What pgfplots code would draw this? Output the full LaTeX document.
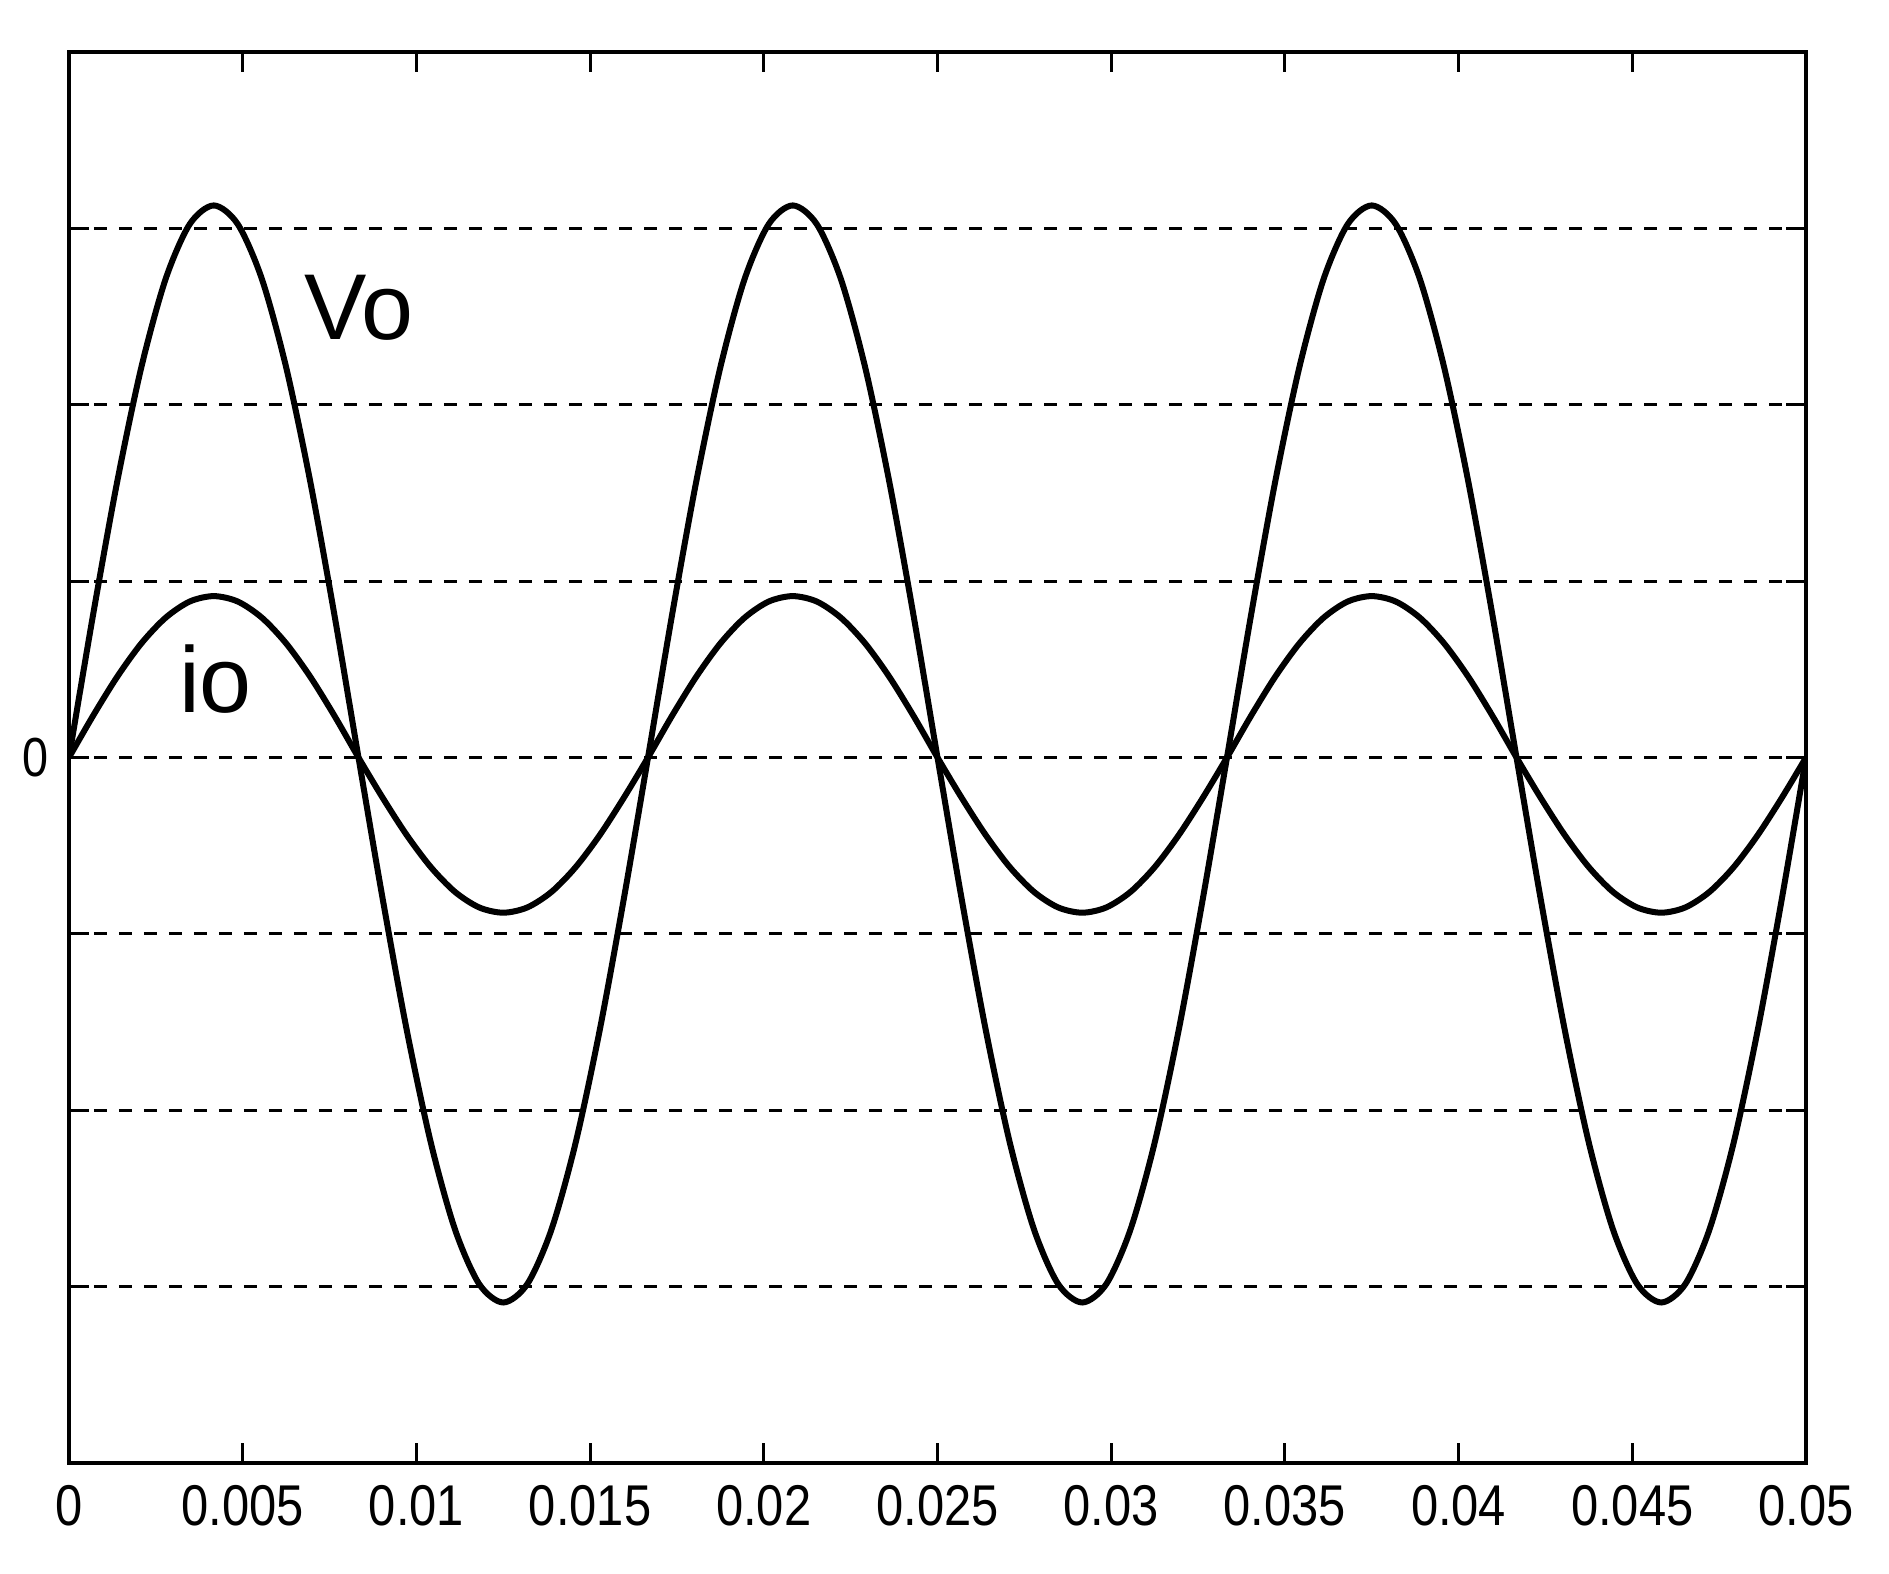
\documentclass[border=0pt]{standalone}
\usepackage{fontspec}
\setmainfont{Liberation Sans}
\usepackage{graphicx}
\usepackage{pgfplots}
\pgfplotsset{compat=1.18}
\usepackage{pgfplotstable}
\newcommand{\nl}[1]{\scalebox{0.85}[1]{#1}}
\pgfplotstableread{
t vo io
0 0 0
0.000694 0.810 0.237
0.001389 1.565 0.458
0.002083 2.213 0.647
0.002778 2.711 0.792
0.003472 3.023 0.884
0.004167 3.130 0.915
0.004861 3.023 0.884
0.005556 2.711 0.792
0.00625 2.213 0.647
0.006944 1.565 0.458
0.007639 0.810 0.237
0.008333 0 0
0.009028 -0.800 -0.228
0.009722 -1.545 -0.440
0.010417 -2.185 -0.622
0.011111 -2.676 -0.762
0.011806 -2.985 -0.850
0.0125 -3.090 -0.880
0.013194 -2.985 -0.850
0.013889 -2.676 -0.762
0.014583 -2.185 -0.622
0.015278 -1.545 -0.440
0.015972 -0.800 -0.228
0.016667 0 0
0.017361 0.810 0.237
0.018056 1.565 0.458
0.01875 2.213 0.647
0.019444 2.711 0.792
0.020139 3.023 0.884
0.020833 3.130 0.915
0.021528 3.023 0.884
0.022222 2.711 0.792
0.022917 2.213 0.647
0.023611 1.565 0.458
0.024306 0.810 0.237
0.025 0 0
0.025694 -0.800 -0.228
0.026389 -1.545 -0.440
0.027083 -2.185 -0.622
0.027778 -2.676 -0.762
0.028472 -2.985 -0.850
0.029167 -3.090 -0.880
0.029861 -2.985 -0.850
0.030556 -2.676 -0.762
0.03125 -2.185 -0.622
0.031944 -1.545 -0.440
0.032639 -0.800 -0.228
0.033333 0 0
0.034028 0.810 0.237
0.034722 1.565 0.458
0.035417 2.213 0.647
0.036111 2.711 0.792
0.036806 3.023 0.884
0.0375 3.130 0.915
0.038194 3.023 0.884
0.038889 2.711 0.792
0.039583 2.213 0.647
0.040278 1.565 0.458
0.040972 0.810 0.237
0.041667 0 0
0.042361 -0.800 -0.228
0.043056 -1.545 -0.440
0.04375 -2.185 -0.622
0.044444 -2.676 -0.762
0.045139 -2.985 -0.850
0.045833 -3.090 -0.880
0.046528 -2.985 -0.850
0.047222 -2.676 -0.762
0.047917 -2.185 -0.622
0.048611 -1.545 -0.440
0.049306 -0.800 -0.228
0.05 0 0
}\data
\begin{document}
\begin{tikzpicture}
\useasboundingbox (0,0) rectangle (377.8pt,314.8pt);
\begin{axis}[
  at={(13.8pt,22.2pt)}, anchor=south west,
  scale only axis, width=347.4pt, height=282.2pt,
  xmin=0, xmax=0.05, ymin=-4, ymax=4,
  scaled x ticks=false, scaled y ticks=false,
  xtick={0,0.005,0.01,0.015,0.02,0.025,0.03,0.035,0.04,0.045,0.05},
  xticklabels={\nl{0},\nl{0.005},\nl{0.01},\nl{0.015},\nl{0.02},\nl{0.025},\nl{0.03},\nl{0.035},\nl{0.04},\nl{0.045},\nl{0.05}},
  ytick={-3,-2,-1,0,1,2,3},
  yticklabels={{},{},{},\nl{0},{},{},{}},
  ymajorgrids,
  major grid style={black, line width=0.6pt, dash pattern=on 2.6pt off 2.4pt},
  tick align=inside, tick pos=both, major tick length=4pt,
  axis line style={line width=0.8pt},
  every tick/.style={black, line width=0.6pt},
  xticklabel style={font=\fontsize{11.5}{12}\selectfont, yshift=-1pt},
  yticklabel style={font=\fontsize{11}{12}\selectfont, xshift=-0.5pt},
]
\addplot[black, line width=1.2pt, smooth] table[x=t,y=vo]{\data};
\addplot[black, line width=1.2pt, smooth] table[x=t,y=io]{\data};
\node[anchor=base west, inner sep=0pt, font=\fontsize{18.7}{20}\selectfont] at (axis cs:0.00674,2.37) {Vo};
\node[anchor=base west, inner sep=0pt, font=\fontsize{18.7}{20}\selectfont] at (axis cs:0.00314,0.254) {io};
\end{axis}
\end{tikzpicture}
\end{document}
